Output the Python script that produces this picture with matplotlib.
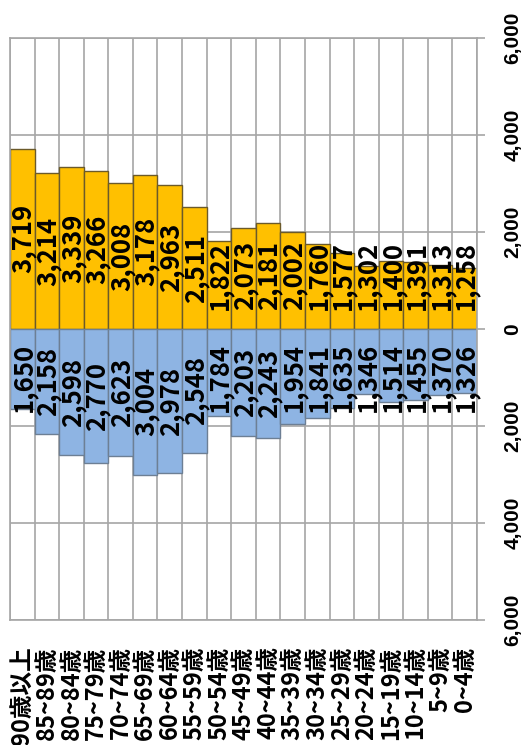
import matplotlib
matplotlib.use("Agg")
import matplotlib.pyplot as plt

plt.rcParams['font.family'] = ['Noto Sans CJK JP', 'DejaVu Sans']

categories = ["90歳以上", "85~89歳", "80~84歳", "75~79歳", "70~74歳", "65~69歳",
              "60~64歳", "55~59歳", "50~54歳", "45~49歳", "40~44歳", "35~39歳",
              "30~34歳", "25~29歳", "20~24歳", "15~19歳", "10~14歳", "5~9歳", "0~4歳"]
female = [3719, 3214, 3339, 3266, 3008, 3178, 2963, 2511, 1822, 2073, 2181, 2002,
          1760, 1577, 1302, 1400, 1391, 1313, 1258]
male = [1650, 2158, 2598, 2770, 2623, 3004, 2978, 2548, 1784, 2203, 2243, 1954,
        1841, 1635, 1346, 1514, 1455, 1370, 1326]
yticks = [-6000, -4000, -2000, 0, 2000, 4000, 6000]
ytick_labels = ["6,000", "4,000", "2,000", "0", "2,000", "4,000", "6,000"]

W, H = 531, 745
fig = plt.figure(figsize=(W / 100, H / 100), dpi=100)
ax = fig.add_axes([10 / W, 1 - 620 / H, (477 - 10) / W, (620 - 38) / H])

x = list(range(len(categories)))
ax.bar(x, female, width=1.0, color="#FFC000", edgecolor="#6b5a2a", linewidth=1.0, zorder=2)
ax.bar(x, [-m for m in male], width=1.0, color="#8EB4E3", edgecolor="#6d7f94", linewidth=1.0, zorder=2)

ax.set_xlim(-0.5, len(categories) - 0.5)
ax.set_ylim(-6000, 6000)

# grid
for b in range(len(categories) + 1):
    ax.axvline(b - 0.5, color="#a6a6a6", linewidth=1.2, zorder=1)
for t in yticks:
    ax.axhline(t, color="#a6a6a6", linewidth=1.2, zorder=1)

for s in ax.spines.values():
    s.set_color("#a6a6a6")
    s.set_linewidth(1.2)

ax.yaxis.tick_right()
ax.set_yticks(yticks, labels=ytick_labels, fontsize=15, fontweight="bold",
              family=["Liberation Sans", "DejaVu Sans"], rotation=90, va="center")
ax.tick_params(axis="y", length=6, width=1.2, color="#a6a6a6", pad=13)

ax.set_xticks(x)
ax.set_xticklabels(categories, rotation=90, fontsize=17, fontweight="bold", va="top")
ax.tick_params(axis="x", length=0, pad=19)

for i in x:
    yf = max(female[i] / 2, 1100)
    ax.text(i + 0.05, yf, f"{female[i]:,}", rotation=90, ha="center", va="center",
            fontsize=18.5, fontweight="bold", color="black", zorder=3)
    ym = max(male[i] / 2, 1000)
    ax.text(i + 0.05, -ym, f"{male[i]:,}", rotation=90, ha="center", va="center",
            fontsize=18.5, fontweight="bold", color="black", zorder=3)

fig.savefig("out.png", dpi=100)
